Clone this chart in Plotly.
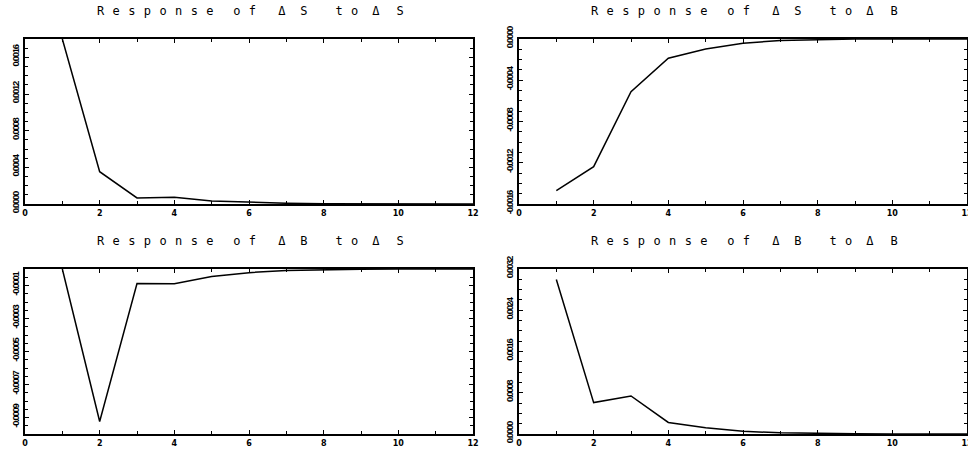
import plotly.graph_objects as go

# Impulse-response horizon (steps)
steps = list(range(1, 13))

# Responses per step
s_to_s = [0.00180, 0.000352, 0.000066, 0.000073, 0.000033, 0.000017,
          0.000008, 0.000003, 0.000001, 0.0, 0.0, 0.0]
s_to_b = [-0.001471, -0.001238, -0.000511, -0.000187, -0.000097, -0.000042,
          -0.000014, -0.000004, -0.000001, 0.0, 0.0, 0.0]
b_to_s = [0.0, -0.000924, -0.000088, -0.000090, -0.000045, -0.000022,
          -0.000009, -0.000003, -0.000001, 0.0, 0.0, 0.0]
b_to_b = [0.002995, 0.000609, 0.000737, 0.000224, 0.000122, 0.000051,
          0.000024, 0.000010, 0.000004, 0.000001, 0.0, 0.0]

# Panel labels
responses = ["ΔS", "ΔS", "ΔB", "ΔB"]
shocks = ["ΔS", "ΔB", "ΔS", "ΔB"]

# X tick labels
x_ticks = [0, 2, 4, 6, 8, 10, 12]
x_ticktext = ["0", "2", "4", "6", "8", "10", "12"]

# Y tick values / labels per panel
y1_ticks = [0.0, 0.0004, 0.0008, 0.0012, 0.0016]
y1_text = ["0.0000", "0.0004", "0.0008", "0.0012", "0.0016"]
y2_ticks = [-0.0016, -0.0012, -0.0008, -0.0004, 0.0]
y2_text = ["-0.0016", "-0.0012", "-0.0008", "-0.0004", "0.0000"]
y3_ticks = [-0.0009, -0.0007, -0.0005, -0.0003, -0.0001]
y3_text = ["-0.0009", "-0.0007", "-0.0005", "-0.0003", "-0.0001"]
y4_ticks = [0.0, 0.0008, 0.0016, 0.0024, 0.0032]
y4_text = ["0.0000", "0.0008", "0.0016", "0.0024", "0.0032"]

W, H = 968, 452

# plot boxes in pixels: (left, top, right, bottom)
boxes = [(25, 39, 473, 204), (519, 39, 967, 204),
         (25, 269, 473, 434), (519, 269, 967, 434)]

series = [s_to_s, s_to_b, b_to_s, b_to_b]
y_ranges = [[0.0, 0.0018], [-0.0016, 0.0], [-0.0010, 0.0], [0.0, 0.0032]]
y_tickvals = [y1_ticks, y2_ticks, y3_ticks, y4_ticks]
y_ticktexts = [y1_text, y2_text, y3_text, y4_text]
y_minor = [0.0001, 0.0001, 0.00005, 0.0002]


def narrow(label):
    # squeeze the rotated value labels
    return f'<span style="letter-spacing:-1.3px">{label}</span>'


def span(txt, ls):
    return f'<span style="letter-spacing:{ls}px">{txt}</span>'


def spaced_title(resp, shock):
    # wide, evenly tracked title; each piece carries its own tracking
    return "".join([
        span("Response", 8.4), span(" ", 4.0), span("of", 8.4),
        span(" ", 6.6), span(resp[0], 14.8), span(resp[1], 8.4),
        span(" ", 12.2), span("to", 8.4), span(" ", -1.6),
        span(shock[0], 17.0), span(shock[1], 8.4),
    ])


fig = go.Figure()
layout = dict(
    width=W, height=H, autosize=False,
    margin=dict(l=0, r=0, t=0, b=0, pad=0),
    paper_bgcolor="white", plot_bgcolor="white",
    showlegend=False,
)

annotations = []
for i, (ys, box) in enumerate(zip(series, boxes)):
    n = i + 1
    xa = "xaxis" if n == 1 else f"xaxis{n}"
    ya = "yaxis" if n == 1 else f"yaxis{n}"
    xr = "x" if n == 1 else f"x{n}"
    yr = "y" if n == 1 else f"y{n}"
    l, t, r, b = box
    fig.add_trace(go.Scatter(x=steps, y=ys, mode="lines", xaxis=xr, yaxis=yr,
                             line=dict(color="black", width=1.5),
                             cliponaxis=True, hoverinfo="skip"))
    layout[xa] = dict(
        domain=[l / W, r / W], anchor=yr, range=[0, 12], automargin=False,
        tickmode="array", tickvals=x_ticks, ticktext=x_ticktext,
        ticklabeloverflow="allow",
        ticks="inside", ticklen=4, tickwidth=1, tickcolor="black",
        minor=dict(ticks="inside", ticklen=3, dtick=1, tick0=0,
                   tickcolor="black", tickwidth=1, showgrid=False),
        showline=True, linewidth=2, linecolor="black", mirror="allticks",
        showgrid=False, zeroline=False,
        tickfont=dict(family="DejaVu Sans", size=8, color="black", weight="bold"),
    )
    layout[ya] = dict(
        domain=[(H - b) / H, (H - t) / H], anchor=xr, range=y_ranges[i],
        automargin=False, ticklabeloverflow="allow",
        tickmode="array", tickvals=y_tickvals[i],
        ticktext=[narrow(s) for s in y_ticktexts[i]],
        ticks="inside", ticklen=4, tickwidth=1, tickcolor="black",
        minor=dict(ticks="inside", ticklen=3, dtick=y_minor[i],
                   tick0=y_ranges[i][0], tickcolor="black", tickwidth=1,
                   showgrid=False),
        showline=True, linewidth=2, linecolor="black", mirror="allticks",
        showgrid=False, zeroline=False, tickangle=-90,
        tickfont=dict(family="Liberation Sans", size=9.5, color="black",
                      weight="bold"),
    )
    annotations.append(dict(
        text=spaced_title(responses[i], shocks[i]), xref="paper", yref="paper",
        x=(l + r) / 2 / W, y=(H - (t - 28)) / H,
        xanchor="center", yanchor="middle", showarrow=False, xshift=5,
        font=dict(family="DejaVu Sans Mono", size=12, color="black"),
    ))

layout["annotations"] = annotations
fig.update_layout(**layout)
fig.write_html("out.html")
